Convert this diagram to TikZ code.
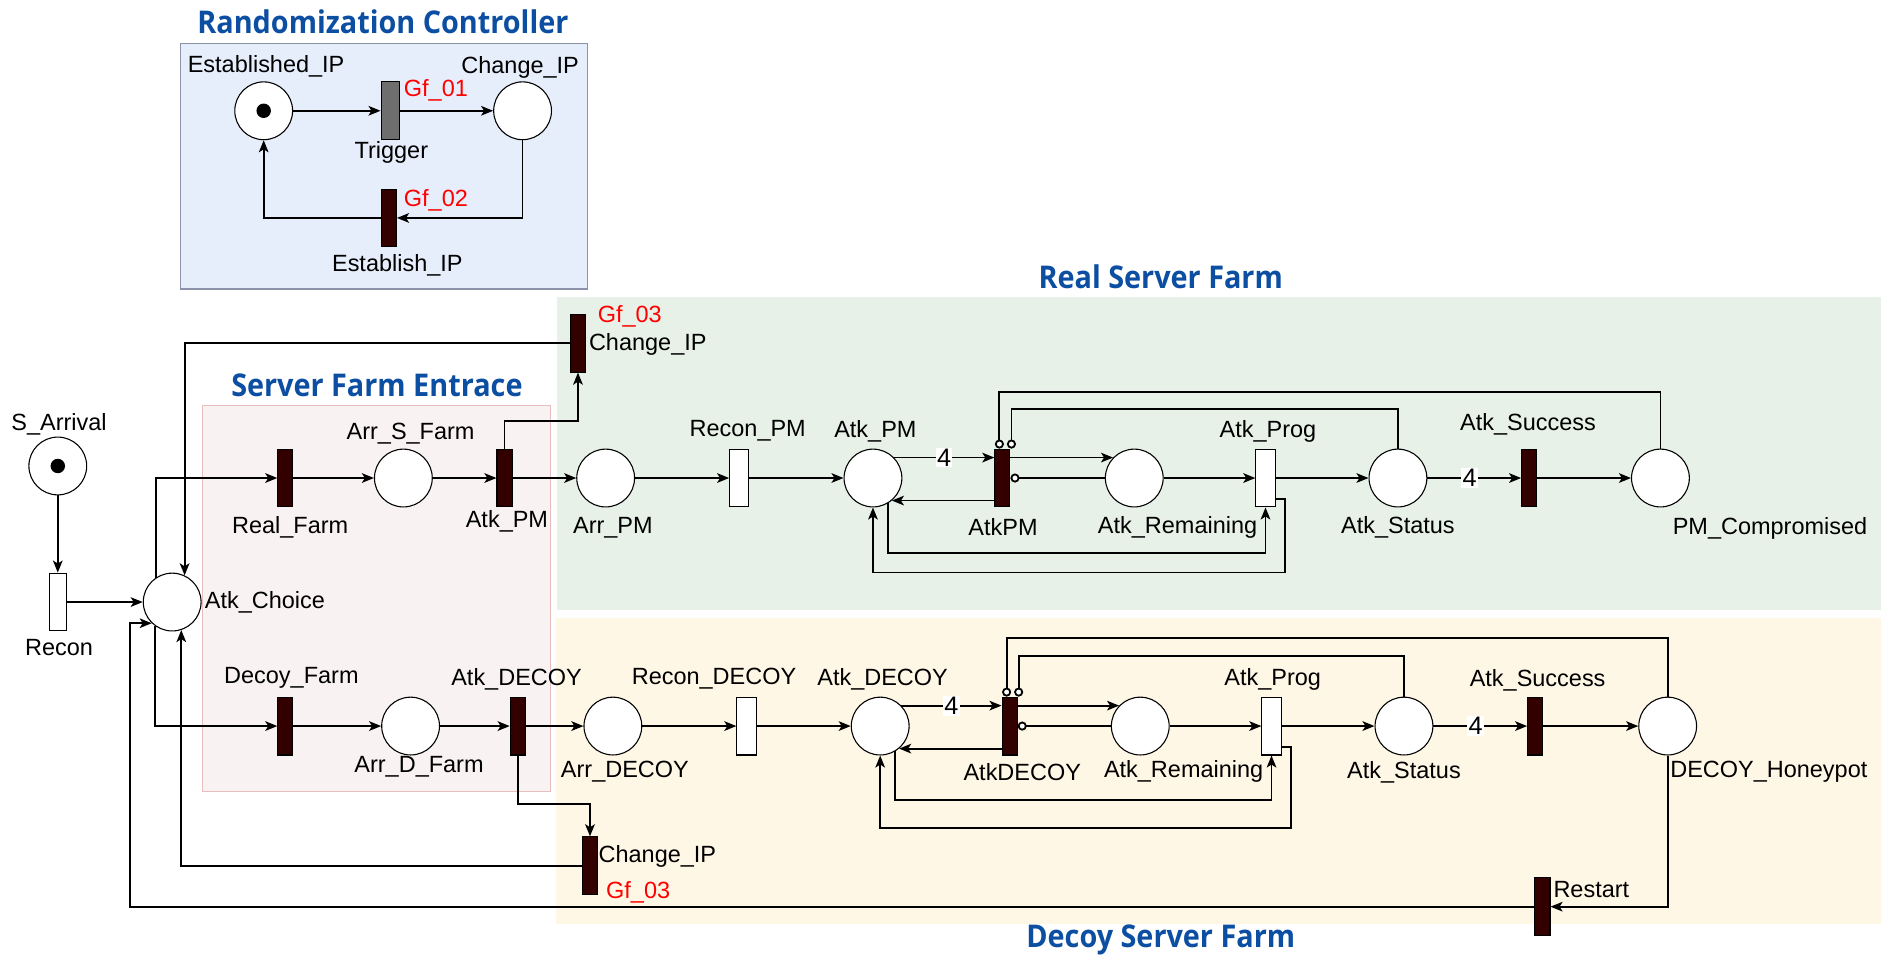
\documentclass[tikz,border=0pt]{standalone}
\usepackage{fontspec}
\setmainfont{Liberation Sans}
\newfontfamily\titlefont{Open Sans}[FakeStretch=0.92]
\usetikzlibrary{arrows.meta,shapes.geometric}
\definecolor{trdark}{HTML}{330000}
\definecolor{trgray}{HTML}{6E6E6E}
\definecolor{ttlblue}{HTML}{0B4EA2}
\definecolor{gfred}{HTML}{FF0000}
\definecolor{rndfill}{HTML}{E7EEFB}
\definecolor{rndline}{HTML}{8C93A8}
\definecolor{entfill}{HTML}{F9F2F2}
\definecolor{entline}{HTML}{E8BDBD}
\definecolor{realfill}{HTML}{E8F1E8}
\definecolor{decfill}{HTML}{FFF7E5}
\begin{document}
\begin{tikzpicture}[x=1pt,y=-1pt,
  place/.style={draw, circle, minimum size=48pt, inner sep=0pt, fill=white, line width=0.9pt},
  bigplace/.style={place},
  trans/.style={draw, rectangle, minimum width=12.5pt, minimum height=48pt, inner sep=0pt, fill=trdark, line width=0.9pt},
  wtrans/.style={trans, fill=white, minimum width=16pt},
  gtrans/.style={trans, fill=trgray, minimum width=15pt},
  lbl/.style={font=\fontsize{19.5}{22}\selectfont, inner sep=0pt},
  gf/.style={lbl, text=gfred},
  ttl/.style={font=\titlefont\bfseries\fontsize{26}{29}\selectfont, text=ttlblue, inner sep=0pt},
  wt/.style={font=\fontsize{21}{24}\selectfont, fill=white, inner sep=1pt},
  arc/.style={line width=1.5pt, -{Stealth[length=10pt,width=8pt,inset=2.5pt]}},
  inh/.style={line width=1.5pt, -{Circle[fill=white,length=7.5pt,width=7.5pt]}},
  ln/.style={line width=1.5pt}
]
\useasboundingbox (0,0) rectangle (1568,798);
\fill[white] (0,0) rectangle (1568,798);
% backgrounds
\draw[fill=rndfill, draw=rndline, line width=1pt] (150,36) rectangle (488,240);
\fill[realfill] (463,247) rectangle (1562,507);
\fill[decfill] (462,513) rectangle (1562,767);
\draw[fill=entfill, draw=entline, line width=0.8pt] (168,337) rectangle (457,657);
% titles
\node[ttl] (t1) at (318,18) {Randomization Controller};
\node[ttl] (t2) at (313,320) {Server Farm Entrace};
\node[ttl] (t3) at (964,230) {Real Server Farm};
\node[ttl] (t4) at (964,781) {Decoy Server Farm};

% ===== Randomization controller
\node[bigplace] (estd) at (219,92) {};
\fill (estd.center) circle (6pt);
\node[gtrans] (trig) at (324,92) {};
\node[bigplace] (cip) at (434,92) {};
\node[trans] (estip) at (323,181) {};
\node[lbl] (l_estd) at (221,55) {Established\_IP};
\node[lbl] (l_trig) at (325,127) {Trigger};
\node[gf] (l_gf1) at (362,75) {Gf\_01};
\node[lbl] (l_cip) at (432,56) {Change\_IP};
\node[gf] (l_gf2) at (362,166) {Gf\_02};
\node[lbl] (l_estip) at (330,220) {Establish\_IP};
\draw[arc] (estd) -- (trig);
\draw[arc] (trig) -- (cip);
\draw[arc] (cip.south) |- (estip.east);
\draw[arc] (estip.west) -| (estd.south);

% ===== Entrance
\node[place] (sarr) at (48,387) {};
\fill (sarr.center) circle (6pt);
\node[wtrans, minimum width=14pt] (recon) at (48,500) {};
\node[place] (choice) at (143,500) {};
\node[trans] (realf) at (237,397) {};
\node[place] (arrs) at (335,397) {};
\node[trans] (atkpm1) at (419,397) {};
\node[trans] (decf) at (237,603) {};
\node[place] (arrd) at (341,603) {};
\node[trans] (atkd1) at (430,603) {};
\node[trans] (cipt) at (480,285) {};
\node[trans] (cipb) at (490,719) {};
\node[trans] (restart) at (1281,753) {};

\node[lbl] (l_sarr) at (49,352) {S\_Arrival};
\node[lbl] (l_recon) at (49,538) {Recon};
\node[lbl, anchor=west] (l_choice) at (170,500) {Atk\_Choice};
\node[lbl] (l_realf) at (241,438) {Real\_Farm};
\node[lbl] (l_arrs) at (341,360) {Arr\_S\_Farm};
\node[lbl] (l_atkpm1) at (421,433) {Atk\_PM};
\node[lbl] (l_decf) at (242,563) {Decoy\_Farm};
\node[lbl] (l_arrd) at (348,637) {Arr\_D\_Farm};
\node[lbl] (l_atkd1) at (429,564) {Atk\_DECOY};
\node[gf] (l_gf3a) at (523,263) {Gf\_03};
\node[lbl, anchor=west] (l_cipt) at (489,286) {Change\_IP};
\node[lbl, anchor=west] (l_cipb) at (497,711) {Change\_IP};
\node[gf] (l_gf3b) at (530,741) {Gf\_03};
\node[lbl, anchor=west] (l_restart) at (1290,739) {Restart};

\draw[arc] (sarr) -- (recon);
\draw[arc] (recon.east) -- (choice.west);
\draw[arc] (choice.124) |- (realf.west);
\draw[arc] (realf) -- (arrs);
\draw[arc] (arrs) -- (atkpm1);
\draw[arc] (atkpm1.north) -- ++(0,-23) -| (cipt.south);
\draw[arc] (cipt.west) -| (choice.65);
\draw[arc] (choice.235) |- (decf.west);
\draw[arc] (decf) -- (arrd);
\draw[arc] (arrd) -- (atkd1);
\draw[arc] (atkd1.south) -- ++(0,40) -| (cipb.north);
\draw[arc] (cipb.west) -| (choice.288);
\coordinate (lb) at (108,753);
\draw[arc] (restart.west) -- (lb) |- (choice.226);

% ===== Real server farm
\node[place] (arrpm) at (503,397) {};
\node[wtrans] (reconpm) at (614,397) {};
\node[place] (atkpm) at (725,397) {};
\node[trans] (atkpmt) at (832.5,397) {};
\node[place] (remr) at (942,397) {};
\node[wtrans] (progr) at (1051,397) {};
\node[place] (statr) at (1161,397) {};
\node[trans] (succr) at (1270,397) {};
\node[place] (pmc) at (1379,397) {};

\node[lbl] (l_arrpm) at (509,438) {Arr\_PM};
\node[lbl] (l_reconpm) at (621,358) {Recon\_PM};
\node[lbl] (l_atkpm) at (727,358) {Atk\_PM};
\node[lbl] (l_atkpmt) at (833,438) {AtkPM};
\node[lbl] (l_remr) at (978,438) {Atk\_Remaining};
\node[lbl] (l_progr) at (1053,358) {Atk\_Prog};
\node[lbl] (l_statr) at (1161,438) {Atk\_Status};
\node[lbl] (l_succr) at (1269,352) {Atk\_Success};
\node[lbl] (l_pmc) at (1470,439) {PM\_Compromised};

\draw[arc] (atkpm1) -- (arrpm);
\draw[arc] (arrpm) -- (reconpm);
\draw[arc] (reconpm) -- (atkpm);
\draw[arc] (atkpm.44) -- (atkpm.44 -| atkpmt.west) node[wt, pos=0.5] (w1) {4};
\draw[arc] (atkpm.-50 -| atkpmt.west) -- (atkpm.-50);
\draw[arc] (atkpmt.east |- remr.136) -- (remr.136);
\draw[inh] (remr.west) -- (atkpmt.east);
\draw[arc] (remr) -- (progr);
\draw[arc] (progr) -- (statr);
\draw[arc] (statr) -- (succr) node[wt, pos=0.45] (w2) {4};
\draw[arc] (succr) -- (pmc);
\draw[inh] (statr.north) |- ([xshift=7.5pt,yshift=33pt]atkpmt.north) -- ([xshift=7.5pt]atkpmt.north);
\draw[inh] (pmc.north) |- ([xshift=-2.5pt,yshift=47pt]atkpmt.north) -- ([xshift=-2.5pt]atkpmt.north);
\draw[arc] (atkpm.-59) |- ([yshift=-38pt]progr.south) -- (progr.south);
\draw[arc] ([yshift=7pt]progr.south east) -- ++(8,0) |- ([yshift=-54pt]atkpm.south) -- (atkpm.south);

% ===== Decoy server farm
\node[place] (arrdec) at (509,603) {};
\node[wtrans] (recondec) at (620,603) {};
\node[place] (atkdec) at (731,603) {};
\node[trans] (atkdect) at (838.5,603) {};
\node[place] (remd) at (947,603) {};
\node[wtrans] (progd) at (1056,603) {};
\node[place] (statd) at (1166,603) {};
\node[trans] (succd) at (1275,603) {};
\node[place] (honey) at (1385,603) {};

\node[lbl] (l_arrdec) at (519,641) {Arr\_DECOY};
\node[lbl] (l_recondec) at (593,564) {Recon\_DECOY};
\node[lbl] (l_atkdec) at (733,564) {Atk\_DECOY};
\node[lbl] (l_atkdect) at (849,641) {AtkDECOY};
\node[lbl] (l_remd) at (983,641) {Atk\_Remaining};
\node[lbl] (l_progd) at (1057,564) {Atk\_Prog};
\node[lbl] (l_statd) at (1166,641) {Atk\_Status};
\node[lbl] (l_succd) at (1277,565) {Atk\_Success};
\node[lbl, anchor=west] (l_honey) at (1387,641) {DECOY\_Honeypot};

\draw[arc] (atkd1) -- (arrdec);
\draw[arc] (arrdec) -- (recondec);
\draw[arc] (recondec) -- (atkdec);
\draw[arc] (atkdec.44) -- (atkdec.44 -| atkdect.west) node[wt, pos=0.5] (w3) {4};
\draw[arc] (atkdec.-50 -| atkdect.west) -- (atkdec.-50);
\draw[arc] (atkdect.east |- remd.136) -- (remd.136);
\draw[inh] (remd.west) -- (atkdect.east);
\draw[arc] (remd) -- (progd);
\draw[arc] (progd) -- (statd);
\draw[arc] (statd) -- (succd) node[wt, pos=0.45] (w4) {4};
\draw[arc] (succd) -- (honey);
\draw[inh] (statd.north) |- ([xshift=7.5pt,yshift=34pt]atkdect.north) -- ([xshift=7.5pt]atkdect.north);
\draw[inh] (honey.north) |- ([xshift=-2.5pt,yshift=49pt]atkdect.north) -- ([xshift=-2.5pt]atkdect.north);
\draw[arc] (atkdec.-59) |- ([yshift=-37pt]progd.south) -- (progd.south);
\draw[arc] ([yshift=7pt]progd.south east) -- ++(8,0) |- ([yshift=-60pt]atkdec.south) -- (atkdec.south);
\draw[arc] (honey.south) |- (restart.east);
\end{tikzpicture}
\end{document}
